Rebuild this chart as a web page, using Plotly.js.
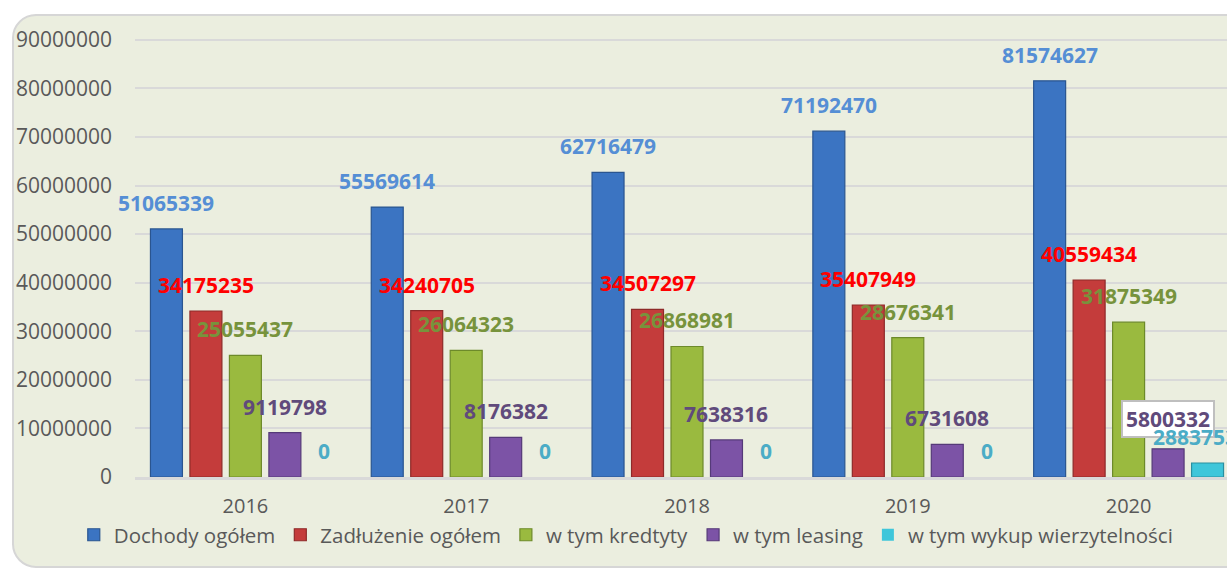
<!DOCTYPE html>
<html>
<head>
<meta charset="utf-8">
<script src="https://cdn.plot.ly/plotly-3.0.1.min.js"></script>
<style>
  html, body { margin: 0; padding: 0; width: 1227px; height: 568px; overflow: hidden; background: #ffffff; }
  #frame { position: absolute; left: 12px; top: 14px; width: 1240px; height: 550px;
           background: #ebeedf; border: 2px solid #d6d6d6; border-radius: 24px; }
  #chart { position: absolute; left: 0; top: 0; width: 1240px; height: 568px; }
</style>
</head>
<body>
<div id="frame"></div>
<div id="chart"></div>
<script>
const years = ['2016', '2017', '2018', '2019', '2020'];
const dochody = [51065339, 55569614, 62716479, 71192470, 81574627];
const zadluzenie = [34175235, 34240705, 34507297, 35407949, 40559434];
const kredyty = [25055437, 26064323, 26868981, 28676341, 31875349];
const leasing = [9119798, 8176382, 7638316, 6731608, 5800332];
const wykup = [0, 0, 0, 0, 2883753];
const seriesNames = ['Dochody ogółem', 'Zadłużenie ogółem', 'w tym kredtyty', 'w tym leasing', 'w tym wykup wierzytelności'];
const yTicks = [0, 10000000, 20000000, 30000000, 40000000, 50000000, 60000000, 70000000, 80000000, 90000000];

const seriesValues = [dochody, zadluzenie, kredyty, leasing, wykup];
const barColors = ['#3b74c2', '#c43c3b', '#9aba3f', '#7c53a6', '#3fc6da'];
const barLines = ['#2a5590', '#8e2a29', '#6d8a2a', '#553a78', '#2a8fa0'];
const labelColors = ['#558ed5', '#ff0000', '#77933c', '#604a7b', '#4bacc6'];

const bargap = 0.106;
const nS = seriesValues.length;
const slot = (1 - bargap) / nS;

const traces = seriesValues.map((vals, i) => ({
  type: 'bar',
  name: seriesNames[i],
  x: years,
  y: vals,
  marker: { color: barColors[i], line: { color: barLines[i], width: vals.map(v => v === 0 ? 0 : 1.2) } },
  hoverinfo: 'x+y+name'
}));

const annotations = [];
seriesValues.forEach((vals, i) => {
  vals.forEach((v, j) => {
    const lastYear = j === years.length - 1;
    const boxed = (i === 3 && lastYear);
    const edgeLabel = (i === nS - 1 && lastYear);
    annotations.push({
      xref: 'x', yref: 'y',
      x: j + (i - (nS - 1) / 2) * slot,
      y: v,
      yshift: boxed ? 30 : 26,
      xshift: edgeLabel ? -13 : 0,
      text: String(v),
      showarrow: false,
      xanchor: 'center', yanchor: 'middle',
      font: { family: 'Open Sans, sans-serif', size: 21, color: labelColors[i], weight: 'bold' },
      bgcolor: boxed ? '#ffffff' : 'rgba(0,0,0,0)',
      bordercolor: boxed ? '#bfbfbf' : 'rgba(0,0,0,0)',
      borderwidth: boxed ? 2 : 0,
      borderpad: boxed ? 3 : 0
    });
  });
});
// draw boxed label first so the last-series label sits on top of it
annotations.sort((a, b) => (b.bgcolor === '#ffffff') - (a.bgcolor === '#ffffff'));

const layout = {
  width: 1240, height: 568,
  margin: { l: 135, r: 1, t: 35, b: 91 },
  paper_bgcolor: 'rgba(0,0,0,0)',
  plot_bgcolor: 'rgba(0,0,0,0)',
  barmode: 'group',
  bargap: bargap,
  bargroupgap: 0.19,
  showlegend: true,
  legend: {
    orientation: 'h', x: 0.445, xanchor: 'center', y: -0.131, yanchor: 'middle',
    font: { family: 'Open Sans, sans-serif', size: 20.5, color: '#595959' },
    bgcolor: 'rgba(0,0,0,0)', traceorder: 'normal'
  },
  xaxis: {
    type: 'category', range: [-0.5, 4.5], showgrid: false, zeroline: false,
    showline: true, linecolor: '#d9d9d9', linewidth: 3,
    ticks: '', ticklabelstandoff: 9,
    tickfont: { family: 'Open Sans, sans-serif', size: 20, color: '#595959' }
  },
  yaxis: {
    range: [0, 91000000], tickvals: yTicks, ticktext: yTicks.map(String),
    showgrid: true, gridcolor: '#d9d9d9', gridwidth: 2, zeroline: false,
    showline: false, ticks: '', ticklabelstandoff: 22,
    tickfont: { family: 'Open Sans, sans-serif', size: 21, color: '#595959' }
  },
  annotations: annotations
};

Plotly.newPlot('chart', traces, layout, { displayModeBar: false, staticPlot: true });
</script>
</body>
</html>
